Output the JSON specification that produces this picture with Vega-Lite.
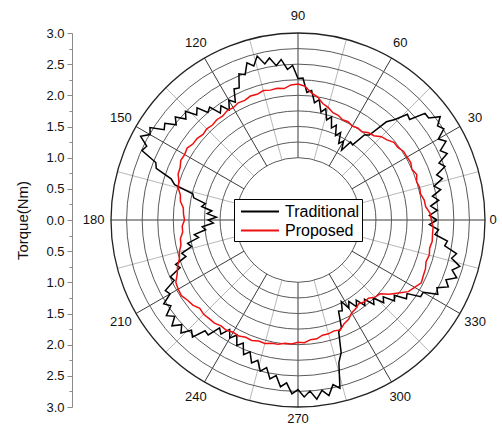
{
"$schema": "https://vega.github.io/schema/vega-lite/v6.json",
"width": 374, "height": 374,
"autosize": {"type": "none"},
"padding": {"left": 111, "top": 33, "right": 17, "bottom": 21},
"background": "white",
"config": {"view": {"stroke": null}, "font": "Liberation Sans"},
"datasets": {
"rings": [{"r":1},{"r":1.25},{"r":1.5},{"r":1.75},{"r":2},{"r":2.25},{"r":2.5},{"r":2.75},{"r":3}],
"spokes": [{"a":0},{"a":15},{"a":30},{"a":45},{"a":60},{"a":75},{"a":90},{"a":105},{"a":120},{"a":135},{"a":150},{"a":165},{"a":180},{"a":195},{"a":210},{"a":225},{"a":240},{"a":255},{"a":270},{"a":285},{"a":300},{"a":315},{"a":330},{"a":345}],
"labels": [{"a":0},{"a":30},{"a":60},{"a":90},{"a":120},{"a":150},{"a":180},{"a":210},{"a":240},{"a":270},{"a":300},{"a":330}],
"curves": [
{"s":"Traditional","a":0,"t":2.23},{"s":"Traditional","a":2,"t":2.11},{"s":"Traditional","a":4,"t":2.24},{"s":"Traditional","a":6,"t":2.14},{"s":"Traditional","a":8,"t":2.28},{"s":"Traditional","a":10,"t":2.19},{"s":"Traditional","a":12,"t":2.34},{"s":"Traditional","a":14,"t":2.25},{"s":"Traditional","a":16,"t":2.41},{"s":"Traditional","a":18,"t":2.34},
{"s":"Traditional","a":20,"t":2.51},{"s":"Traditional","a":22,"t":2.44},{"s":"Traditional","a":24,"t":2.62},{"s":"Traditional","a":26,"t":2.54},{"s":"Traditional","a":28,"t":2.69},{"s":"Traditional","a":30,"t":2.60},{"s":"Traditional","a":32,"t":2.76},{"s":"Traditional","a":34,"t":2.70},{"s":"Traditional","a":36,"t":2.82},{"s":"Traditional","a":38,"t":2.66},
{"s":"Traditional","a":40,"t":2.66},{"s":"Traditional","a":42,"t":2.41},{"s":"Traditional","a":44,"t":2.44},{"s":"Traditional","a":46,"t":2.24},{"s":"Traditional","a":48,"t":2.12},{"s":"Traditional","a":50,"t":1.78},{"s":"Traditional","a":52,"t":1.73},{"s":"Traditional","a":54,"t":1.49},{"s":"Traditional","a":56,"t":1.51},{"s":"Traditional","a":58,"t":1.32},
{"s":"Traditional","a":60,"t":1.46},{"s":"Traditional","a":62,"t":1.39},{"s":"Traditional","a":64,"t":1.56},{"s":"Traditional","a":66,"t":1.48},{"s":"Traditional","a":68,"t":1.64},{"s":"Traditional","a":70,"t":1.57},{"s":"Traditional","a":72,"t":1.74},{"s":"Traditional","a":74,"t":1.67},{"s":"Traditional","a":76,"t":1.84},{"s":"Traditional","a":78,"t":1.77},
{"s":"Traditional","a":80,"t":1.96},{"s":"Traditional","a":82,"t":1.90},{"s":"Traditional","a":84,"t":2.09},{"s":"Traditional","a":86,"t":2.05},{"s":"Traditional","a":88,"t":2.28},{"s":"Traditional","a":90,"t":2.27},{"s":"Traditional","a":92,"t":2.48},{"s":"Traditional","a":94,"t":2.42},{"s":"Traditional","a":96,"t":2.59},{"s":"Traditional","a":98,"t":2.50},
{"s":"Traditional","a":100,"t":2.64},{"s":"Traditional","a":102,"t":2.56},{"s":"Traditional","a":104,"t":2.71},{"s":"Traditional","a":106,"t":2.57},{"s":"Traditional","a":108,"t":2.65},{"s":"Traditional","a":110,"t":2.48},{"s":"Traditional","a":112,"t":2.53},{"s":"Traditional","a":114,"t":2.32},{"s":"Traditional","a":116,"t":2.34},{"s":"Traditional","a":118,"t":2.14},
{"s":"Traditional","a":120,"t":2.22},{"s":"Traditional","a":122,"t":2.08},{"s":"Traditional","a":124,"t":2.21},{"s":"Traditional","a":126,"t":2.12},{"s":"Traditional","a":128,"t":2.30},{"s":"Traditional","a":130,"t":2.25},{"s":"Traditional","a":132,"t":2.42},{"s":"Traditional","a":134,"t":2.34},{"s":"Traditional","a":136,"t":2.51},{"s":"Traditional","a":138,"t":2.42},
{"s":"Traditional","a":140,"t":2.57},{"s":"Traditional","a":142,"t":2.48},{"s":"Traditional","a":144,"t":2.64},{"s":"Traditional","a":146,"t":2.59},{"s":"Traditional","a":148,"t":2.80},{"s":"Traditional","a":150,"t":2.74},{"s":"Traditional","a":152,"t":2.86},{"s":"Traditional","a":154,"t":2.70},{"s":"Traditional","a":156,"t":2.74},{"s":"Traditional","a":158,"t":2.46},
{"s":"Traditional","a":160,"t":2.42},{"s":"Traditional","a":162,"t":2.14},{"s":"Traditional","a":164,"t":2.06},{"s":"Traditional","a":166,"t":1.74},{"s":"Traditional","a":168,"t":1.71},{"s":"Traditional","a":170,"t":1.51},{"s":"Traditional","a":172,"t":1.56},{"s":"Traditional","a":174,"t":1.39},{"s":"Traditional","a":176,"t":1.46},{"s":"Traditional","a":178,"t":1.31},
{"s":"Traditional","a":180,"t":1.44},{"s":"Traditional","a":182,"t":1.36},{"s":"Traditional","a":184,"t":1.54},{"s":"Traditional","a":186,"t":1.49},{"s":"Traditional","a":188,"t":1.68},{"s":"Traditional","a":190,"t":1.62},{"s":"Traditional","a":192,"t":1.81},{"s":"Traditional","a":194,"t":1.76},{"s":"Traditional","a":196,"t":1.94},{"s":"Traditional","a":198,"t":1.89},
{"s":"Traditional","a":200,"t":2.09},{"s":"Traditional","a":202,"t":2.04},{"s":"Traditional","a":204,"t":2.24},{"s":"Traditional","a":206,"t":2.21},{"s":"Traditional","a":208,"t":2.41},{"s":"Traditional","a":210,"t":2.37},{"s":"Traditional","a":212,"t":2.54},{"s":"Traditional","a":214,"t":2.46},{"s":"Traditional","a":216,"t":2.61},{"s":"Traditional","a":218,"t":2.51},
{"s":"Traditional","a":220,"t":2.64},{"s":"Traditional","a":222,"t":2.51},{"s":"Traditional","a":224,"t":2.61},{"s":"Traditional","a":226,"t":2.46},{"s":"Traditional","a":228,"t":2.53},{"s":"Traditional","a":230,"t":2.32},{"s":"Traditional","a":232,"t":2.34},{"s":"Traditional","a":234,"t":2.14},{"s":"Traditional","a":236,"t":2.21},{"s":"Traditional","a":238,"t":2.07},
{"s":"Traditional","a":240,"t":2.19},{"s":"Traditional","a":242,"t":2.09},{"s":"Traditional","a":244,"t":2.24},{"s":"Traditional","a":246,"t":2.16},{"s":"Traditional","a":248,"t":2.33},{"s":"Traditional","a":250,"t":2.25},{"s":"Traditional","a":252,"t":2.41},{"s":"Traditional","a":254,"t":2.34},{"s":"Traditional","a":256,"t":2.50},{"s":"Traditional","a":258,"t":2.42},
{"s":"Traditional","a":260,"t":2.59},{"s":"Traditional","a":262,"t":2.52},{"s":"Traditional","a":264,"t":2.69},{"s":"Traditional","a":266,"t":2.62},{"s":"Traditional","a":268,"t":2.79},{"s":"Traditional","a":270,"t":2.72},{"s":"Traditional","a":272,"t":2.84},{"s":"Traditional","a":274,"t":2.75},{"s":"Traditional","a":276,"t":2.89},{"s":"Traditional","a":278,"t":2.76},
{"s":"Traditional","a":280,"t":2.86},{"s":"Traditional","a":282,"t":2.70},{"s":"Traditional","a":284,"t":2.78},{"s":"Traditional","a":286,"t":2.38},{"s":"Traditional","a":288,"t":2.24},{"s":"Traditional","a":290,"t":1.91},{"s":"Traditional","a":292,"t":1.86},{"s":"Traditional","a":294,"t":1.60},{"s":"Traditional","a":296,"t":1.62},{"s":"Traditional","a":298,"t":1.48},
{"s":"Traditional","a":300,"t":1.63},{"s":"Traditional","a":302,"t":1.54},{"s":"Traditional","a":304,"t":1.68},{"s":"Traditional","a":306,"t":1.59},{"s":"Traditional","a":308,"t":1.74},{"s":"Traditional","a":310,"t":1.66},{"s":"Traditional","a":312,"t":1.82},{"s":"Traditional","a":314,"t":1.74},{"s":"Traditional","a":316,"t":1.91},{"s":"Traditional","a":318,"t":1.84},
{"s":"Traditional","a":320,"t":2.02},{"s":"Traditional","a":322,"t":1.96},{"s":"Traditional","a":324,"t":2.15},{"s":"Traditional","a":326,"t":2.11},{"s":"Traditional","a":328,"t":2.32},{"s":"Traditional","a":330,"t":2.32},{"s":"Traditional","a":332,"t":2.54},{"s":"Traditional","a":334,"t":2.48},{"s":"Traditional","a":336,"t":2.64},{"s":"Traditional","a":338,"t":2.56},
{"s":"Traditional","a":340,"t":2.71},{"s":"Traditional","a":342,"t":2.60},{"s":"Traditional","a":344,"t":2.70},{"s":"Traditional","a":346,"t":2.54},{"s":"Traditional","a":348,"t":2.60},{"s":"Traditional","a":350,"t":2.39},{"s":"Traditional","a":352,"t":2.42},{"s":"Traditional","a":354,"t":2.21},{"s":"Traditional","a":356,"t":2.26},{"s":"Traditional","a":358,"t":2.11},
{"s":"Traditional","a":360,"t":2.23},
{"s":"Proposed","a":0,"t":2.14},{"s":"Proposed","a":3,"t":2.12},{"s":"Proposed","a":6,"t":2.06},{"s":"Proposed","a":9,"t":2.05},{"s":"Proposed","a":12,"t":2.01},{"s":"Proposed","a":15,"t":2.02},{"s":"Proposed","a":18,"t":2.00},{"s":"Proposed","a":21,"t":2.04},{"s":"Proposed","a":24,"t":2.00},{"s":"Proposed","a":27,"t":2.03},
{"s":"Proposed","a":30,"t":2.02},{"s":"Proposed","a":33,"t":2.02},{"s":"Proposed","a":36,"t":1.98},{"s":"Proposed","a":39,"t":1.98},{"s":"Proposed","a":42,"t":1.92},{"s":"Proposed","a":45,"t":1.89},{"s":"Proposed","a":48,"t":1.82},{"s":"Proposed","a":51,"t":1.80},{"s":"Proposed","a":54,"t":1.75},{"s":"Proposed","a":57,"t":1.76},
{"s":"Proposed","a":60,"t":1.74},{"s":"Proposed","a":63,"t":1.77},{"s":"Proposed","a":66,"t":1.76},{"s":"Proposed","a":69,"t":1.80},{"s":"Proposed","a":72,"t":1.81},{"s":"Proposed","a":75,"t":1.87},{"s":"Proposed","a":78,"t":1.91},{"s":"Proposed","a":81,"t":2.00},{"s":"Proposed","a":84,"t":2.05},{"s":"Proposed","a":87,"t":2.15},
{"s":"Proposed","a":90,"t":2.18},{"s":"Proposed","a":93,"t":2.17},{"s":"Proposed","a":96,"t":2.12},{"s":"Proposed","a":99,"t":2.14},{"s":"Proposed","a":102,"t":2.13},{"s":"Proposed","a":105,"t":2.15},{"s":"Proposed","a":108,"t":2.12},{"s":"Proposed","a":111,"t":2.13},{"s":"Proposed","a":114,"t":2.10},{"s":"Proposed","a":117,"t":2.11},
{"s":"Proposed","a":120,"t":2.08},{"s":"Proposed","a":123,"t":2.09},{"s":"Proposed","a":126,"t":2.06},{"s":"Proposed","a":129,"t":2.07},{"s":"Proposed","a":132,"t":2.05},{"s":"Proposed","a":135,"t":2.07},{"s":"Proposed","a":138,"t":2.05},{"s":"Proposed","a":141,"t":2.08},{"s":"Proposed","a":144,"t":2.08},{"s":"Proposed","a":147,"t":2.12},
{"s":"Proposed","a":150,"t":2.10},{"s":"Proposed","a":153,"t":2.11},{"s":"Proposed","a":156,"t":2.07},{"s":"Proposed","a":159,"t":2.06},{"s":"Proposed","a":162,"t":2.01},{"s":"Proposed","a":165,"t":1.99},{"s":"Proposed","a":168,"t":1.93},{"s":"Proposed","a":171,"t":1.91},{"s":"Proposed","a":174,"t":1.85},{"s":"Proposed","a":177,"t":1.84},
{"s":"Proposed","a":180,"t":1.82},{"s":"Proposed","a":183,"t":1.86},{"s":"Proposed","a":186,"t":1.86},{"s":"Proposed","a":189,"t":1.91},{"s":"Proposed","a":192,"t":1.92},{"s":"Proposed","a":195,"t":1.97},{"s":"Proposed","a":198,"t":2.00},{"s":"Proposed","a":201,"t":2.07},{"s":"Proposed","a":204,"t":2.12},{"s":"Proposed","a":207,"t":2.20},
{"s":"Proposed","a":210,"t":2.22},{"s":"Proposed","a":213,"t":2.23},{"s":"Proposed","a":216,"t":2.19},{"s":"Proposed","a":219,"t":2.17},{"s":"Proposed","a":222,"t":2.12},{"s":"Proposed","a":225,"t":2.14},{"s":"Proposed","a":228,"t":2.13},{"s":"Proposed","a":231,"t":2.13},{"s":"Proposed","a":234,"t":2.10},{"s":"Proposed","a":237,"t":2.11},
{"s":"Proposed","a":240,"t":2.08},{"s":"Proposed","a":243,"t":2.09},{"s":"Proposed","a":246,"t":2.06},{"s":"Proposed","a":249,"t":2.07},{"s":"Proposed","a":252,"t":2.04},{"s":"Proposed","a":255,"t":2.05},{"s":"Proposed","a":258,"t":2.02},{"s":"Proposed","a":261,"t":2.02},{"s":"Proposed","a":264,"t":1.99},{"s":"Proposed","a":267,"t":1.99},
{"s":"Proposed","a":270,"t":1.96},{"s":"Proposed","a":273,"t":1.97},{"s":"Proposed","a":276,"t":1.93},{"s":"Proposed","a":279,"t":1.93},{"s":"Proposed","a":282,"t":1.89},{"s":"Proposed","a":285,"t":1.89},{"s":"Proposed","a":288,"t":1.87},{"s":"Proposed","a":291,"t":1.89},{"s":"Proposed","a":294,"t":1.82},{"s":"Proposed","a":297,"t":1.79},
{"s":"Proposed","a":300,"t":1.72},{"s":"Proposed","a":303,"t":1.70},{"s":"Proposed","a":306,"t":1.66},{"s":"Proposed","a":309,"t":1.69},{"s":"Proposed","a":312,"t":1.69},{"s":"Proposed","a":315,"t":1.75},{"s":"Proposed","a":318,"t":1.77},{"s":"Proposed","a":321,"t":1.89},{"s":"Proposed","a":324,"t":1.99},{"s":"Proposed","a":327,"t":2.11},
{"s":"Proposed","a":330,"t":2.16},{"s":"Proposed","a":333,"t":2.22},{"s":"Proposed","a":336,"t":2.20},{"s":"Proposed","a":339,"t":2.19},{"s":"Proposed","a":342,"t":2.16},{"s":"Proposed","a":345,"t":2.18},{"s":"Proposed","a":348,"t":2.16},{"s":"Proposed","a":351,"t":2.18},{"s":"Proposed","a":354,"t":2.17},{"s":"Proposed","a":357,"t":2.17},
{"s":"Proposed","a":360,"t":2.14}
]
},
"encoding": {
 "x": {"field": "px", "type": "quantitative", "scale": {"domain": [-3, 3], "nice": false, "zero": false}, "axis": null},
 "y": {"field": "py", "type": "quantitative", "scale": {"domain": [-3, 3], "nice": false, "zero": false}, "title": "Torque(Nm)",
  "axis": {
   "orient": "left", "offset": 39, "title": "Torque(Nm)",
   "values": [-3,-2.75,-2.5,-2.25,-2,-1.75,-1.5,-1.25,-1,-0.75,-0.5,-0.25,0,0.25,0.5,0.75,1,1.25,1.5,1.75,2,2.25,2.5,2.75,3],
   "labelExpr": "abs(datum.value*2 - round(datum.value*2)) < 0.01 ? format(abs(datum.value), '.1f') : ''",
   "tickSize": {"condition": {"test": "abs(datum.value*2 - round(datum.value*2)) < 0.01", "value": 5}, "value": 3},
   "labelPadding": 3,
   "grid": false,
   "domainColor": "#8a8a8a", "tickColor": "#8a8a8a",
   "labelFont": "Liberation Sans", "labelFontSize": 13, "labelColor": "#111111",
   "titleFont": "Liberation Sans", "titleFontSize": 15, "titleFontWeight": "normal", "titleColor": "#111111",
   "titlePadding": 15, "labelFlush": false, "labelOverlap": false
  }
 }
},
"layer": [
{
 "data": {"name": "spokes"},
 "transform": [
  {"calculate": "cos(datum.a*PI/180)", "as": "px"},
  {"calculate": "sin(datum.a*PI/180)", "as": "py"},
  {"calculate": "3*cos(datum.a*PI/180)", "as": "px2"},
  {"calculate": "3*sin(datum.a*PI/180)", "as": "py2"}
 ],
 "mark": {"type": "rule", "strokeWidth": 1},
 "encoding": {
  "x2": {"field": "px2"},
  "y2": {"field": "py2"},
  "stroke": {"condition": {"test": "datum.a % 30 == 0", "value": "#3a3a3a"}, "value": "#b8b8b8"}
 }
},
{
 "data": {"name": "rings"},
 "transform": [
  {"calculate": "0", "as": "px"},
  {"calculate": "0", "as": "py"}
 ],
 "mark": {"type": "arc", "theta": 0, "theta2": 6.2832, "fill": "transparent"},
 "encoding": {
  "radius": {"field": "r", "type": "quantitative", "stack": null, "scale": {"type": "linear", "domain": [0, 3], "range": [0, 187], "zero": true}, "legend": null},
  "stroke": {"condition": {"test": "datum.r == 3", "value": "#222222"}, "value": "#5a5a5a"},
  "strokeWidth": {"condition": {"test": "datum.r == 3", "value": 1.3}, "value": 1}
 }
},
{
 "data": {"name": "labels"},
 "transform": [
  {"calculate": "datum.a == 0 ? 3.13 : (datum.a == 270 ? 3.2 : 3.28)", "as": "lr"},
  {"calculate": "datum.lr*cos(datum.a*PI/180)", "as": "px"},
  {"calculate": "datum.lr*sin(datum.a*PI/180)", "as": "py"},
  {"calculate": "toString(datum.a)", "as": "txt"}
 ],
 "mark": {"type": "text", "fontSize": 13, "font": "Liberation Sans", "color": "#111111", "align": "center", "baseline": "middle"},
 "encoding": {
  "text": {"field": "txt"}
 }
},
{
 "data": {"name": "curves"},
 "transform": [
  {"calculate": "datum.t*cos(datum.a*PI/180)", "as": "px"},
  {"calculate": "datum.t*sin(datum.a*PI/180)", "as": "py"}
 ],
 "mark": {"type": "line", "strokeWidth": 1.5, "clip": false},
 "encoding": {
  "order": {"field": "a", "type": "quantitative"},
  "color": {"field": "s", "type": "nominal",
   "scale": {"domain": ["Traditional", "Proposed"], "range": ["#000000", "#ee1111"]},
   "legend": {"orient": "none", "legendX": 123, "legendY": 166, "title": null,
    "strokeColor": "#000000", "fillColor": "#ffffff", "padding": 2,
    "symbolType": "M-0.58,0H3.42", "symbolSize": 361, "symbolStrokeWidth": 2,
    "labelFont": "Liberation Sans", "labelFontSize": 16, "labelColor": "#000000",
    "labelOffset": 28, "rowPadding": 0}
  }
 }
}
]
}
